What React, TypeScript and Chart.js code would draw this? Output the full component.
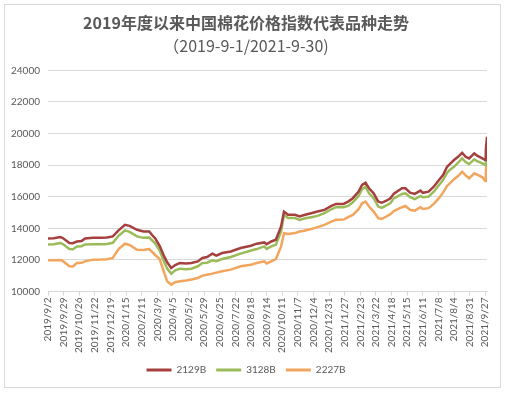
import { useEffect, useRef } from 'react';
import { Chart, registerables } from 'chart.js';

Chart.register(...registerables);

const dates = [
  '2019/9/2', '2019/9/12', '2019/9/23', '2019/9/27', '2019/10/9', '2019/10/15', '2019/10/22', '2019/10/30',
  '2019/11/5', '2019/11/19', '2019/12/2', '2019/12/13', '2019/12/23', '2020/1/2', '2020/1/13', '2020/1/21',
  '2020/2/3', '2020/2/14', '2020/2/24', '2020/3/2', '2020/3/5', '2020/3/13', '2020/3/20', '2020/3/26',
  '2020/4/2', '2020/4/9', '2020/4/17', '2020/4/28', '2020/5/7', '2020/5/18', '2020/5/26', '2020/6/3',
  '2020/6/12', '2020/6/19', '2020/6/29', '2020/7/14', '2020/7/31', '2020/8/18', '2020/8/28', '2020/9/10',
  '2020/9/14', '2020/9/22', '2020/9/30', '2020/10/9', '2020/10/14', '2020/10/21', '2020/11/2', '2020/11/10',
  '2020/11/18', '2020/11/30', '2020/12/11', '2020/12/23', '2021/1/4', '2021/1/12', '2021/1/25', '2021/2/2',
  '2021/2/10', '2021/2/20', '2021/2/26', '2021/3/4', '2021/3/10', '2021/3/18', '2021/3/26', '2021/4/1',
  '2021/4/9', '2021/4/16', '2021/4/22', '2021/5/6', '2021/5/12', '2021/5/20', '2021/5/28', '2021/6/7',
  '2021/6/11', '2021/6/21', '2021/6/30', '2021/7/9', '2021/7/16', '2021/7/23', '2021/7/29', '2021/8/4',
  '2021/8/11', '2021/8/18', '2021/8/24', '2021/8/30', '2021/9/8', '2021/9/13', '2021/9/22', '2021/9/27',
  '2021/9/28', '2021/9/30',
];

const index2129B = [
  13360, 13380, 13450, 13400, 13070, 13060, 13170, 13200, 13360, 13400, 13400, 13420, 13490, 13870, 14220, 14160,
  13910, 13800, 13800, 13490, 13390, 12900, 12300, 11850, 11490, 11680, 11810, 11780, 11810, 11910, 12125, 12190,
  12400, 12270, 12440, 12540, 12755, 12900, 13030, 13110, 13000, 13170, 13280, 14120, 15060, 14860, 14855, 14750,
  14850, 14960, 15065, 15170, 15420, 15550, 15550, 15695, 15910, 16325, 16750, 16890, 16540, 16220, 15695, 15620,
  15750, 15900, 16200, 16540, 16540, 16260, 16180, 16390, 16250, 16325, 16640, 17060, 17380, 17900, 18115, 18325,
  18530, 18785, 18530, 18430, 18745, 18600, 18430, 18325, 19000, 19800,
];

const index3128B = [
  12980, 13000, 13070, 13020, 12690, 12680, 12860, 12870, 12980, 13000, 13000, 13010, 13090, 13530, 13870, 13780,
  13490, 13400, 13420, 13170, 13070, 12600, 11950, 11450, 11135, 11340, 11450, 11420, 11450, 11600, 11810, 11830,
  11975, 11920, 12060, 12190, 12400, 12600, 12690, 12860, 12700, 12860, 12965, 13800, 14860, 14650, 14650, 14540,
  14620, 14710, 14790, 14960, 15210, 15340, 15340, 15420, 15655, 16055, 16475, 16640, 16220, 15910, 15380, 15300,
  15450, 15600, 15900, 16180, 16220, 15970, 15845, 16055, 15970, 16010, 16325, 16750, 17060, 17525, 17740, 17900,
  18155, 18430, 18200, 18070, 18370, 18250, 18115, 18010, 18600, 19200,
];

const index2227B = [
  11975, 11980, 11990, 11950, 11600, 11590, 11810, 11820, 11910, 12020, 12030, 12050, 12125, 12690, 13030, 12950,
  12650, 12630, 12690, 12440, 12330, 12050, 11300, 10650, 10440, 10590, 10650, 10700, 10760, 10860, 11010, 11070,
  11135, 11200, 11280, 11390, 11600, 11700, 11810, 11910, 11780, 11910, 12060, 12860, 13700, 13650, 13700, 13800,
  13850, 13955, 14080, 14225, 14430, 14540, 14560, 14710, 14855, 15210, 15590, 15695, 15380, 15065, 14650, 14600,
  14750, 14900, 15100, 15340, 15420, 15170, 15125, 15340, 15230, 15280, 15550, 15910, 16260, 16685, 16890, 17110,
  17315, 17585, 17350, 17170, 17485, 17400, 17230, 17000, 17600, 18300,
];

const tickLabels = [
  '2019/9/2', '2019/9/29', '2019/10/26', '2019/11/22', '2019/12/19', '2020/1/15', '2020/2/11', '2020/3/9',
  '2020/4/5', '2020/5/2', '2020/5/29', '2020/6/25', '2020/7/22', '2020/8/18', '2020/9/14', '2020/10/11',
  '2020/11/7', '2020/12/4', '2020/12/31', '2021/1/27', '2021/2/23', '2021/3/22', '2021/4/18', '2021/5/15',
  '2021/6/11', '2021/7/8', '2021/8/4', '2021/8/31', '2021/9/27',
];

const seriesNames = ['2129B', '3128B', '2227B'];
const seriesColors = ['#A5403F', '#9BBB59', '#F2A55C'];

// days since the first date, so the x axis is a real date axis
const dayOf = (s: string) => {
  const [y, m, d] = s.split('/').map(Number);
  return (Date.UTC(y, m - 1, d) - Date.UTC(2019, 8, 2)) / 86400000;
};

export default function App() {
  const chartRef = useRef<HTMLCanvasElement>(null);
  const chartInstance = useRef<Chart | null>(null);

  useEffect(() => {
    if (!chartRef.current) return;
    if (chartInstance.current) chartInstance.current.destroy();

    const ctx = chartRef.current.getContext('2d');
    if (!ctx) return;

    const allSeries = [index2129B, index3128B, index2227B];
    const tickFont = { family: 'Lato, sans-serif', size: 10 };

    chartInstance.current = new Chart(ctx, {
      type: 'line',
      data: {
        datasets: allSeries.map((values, i) => ({
          label: seriesNames[i],
          data: values.map((v, j) => ({ x: dayOf(dates[j]), y: v })),
          borderColor: seriesColors[i],
          backgroundColor: seriesColors[i],
          borderWidth: 2.5,
          pointRadius: 0,
          tension: 0,
        })),
      },
      options: {
        responsive: true,
        maintainAspectRatio: false,
        animation: false,
        layout: { padding: { left: 0, right: 13, bottom: 2 } },
        plugins: {
          title: {
            display: true,
            text: '2019年度以来中国棉花价格指数代表品种走势',
            color: '#595959',
            font: { family: "'Noto Sans CJK SC', sans-serif", size: 16, weight: 'bold' },
            padding: { top: 8, bottom: 2 },
          },
          subtitle: {
            display: true,
            text: '（2019-9-1/2021-9-30)',
            color: '#595959',
            font: { family: "'Noto Sans CJK SC', sans-serif", size: 16, weight: 'normal' },
            padding: { top: 2, bottom: 15 },
          },
          legend: {
            position: 'bottom',
            labels: {
              color: '#595959',
              font: tickFont,
              boxWidth: 25,
              boxHeight: 3,
              padding: 10,
              generateLabels: (chart: Chart) =>
                Chart.defaults.plugins.legend.labels.generateLabels(chart).map((l: any) => ({ ...l, lineWidth: 0 })),
            },
          },
          tooltip: { enabled: false },
        },
        scales: {
          x: {
            type: 'linear',
            min: 0,
            max: dayOf(dates[dates.length - 1]),
            afterBuildTicks: (scale: any) => {
              scale.ticks = tickLabels.map((t) => ({ value: dayOf(t) }));
            },
            ticks: {
              color: '#595959',
              font: tickFont,
              autoSkip: false,
              maxRotation: 90,
              minRotation: 90,
              padding: 2,
              callback: (_v: any, i: number) => tickLabels[i],
            },
            grid: { drawOnChartArea: false, drawTicks: true, tickLength: 4, color: '#d9d9d9' },
            border: { display: true, color: '#d9d9d9' },
          },
          y: {
            min: 10000,
            max: 24000,
            afterFit: (scale: any) => {
              scale.width = 43;
            },
            ticks: {
              stepSize: 2000,
              color: '#595959',
              font: tickFont,
              padding: 8,
              callback: (v: any) => String(v),
            },
            grid: { color: '#d9d9d9', drawTicks: false },
            border: { display: false },
          },
        },
      },
    });

    return () => {
      if (chartInstance.current) {
        chartInstance.current.destroy();
        chartInstance.current = null;
      }
    };
  }, []);

  return (
    <div
      style={{
        position: 'fixed',
        left: 4,
        top: 4,
        width: 497,
        height: 384,
        border: '1px solid #d9d9d9',
        boxSizing: 'border-box',
        background: '#fff',
      }}
    >
      <canvas ref={chartRef} />
    </div>
  );
}
